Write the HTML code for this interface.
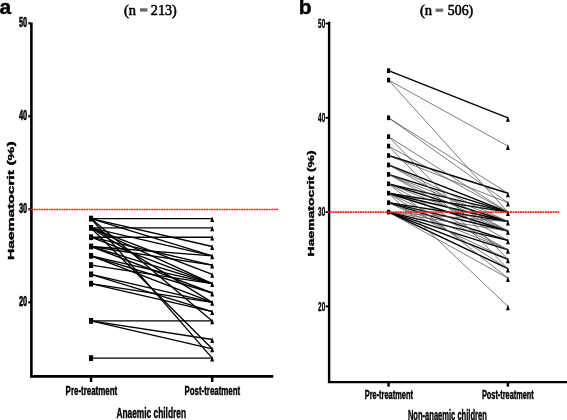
<!DOCTYPE html><html><head><meta charset="utf-8"><style>html,body{margin:0;padding:0;background:#fff;}svg{display:block;filter:blur(0.3px);}</style></head><body>
<svg width="567" height="420" viewBox="0 0 567 420">
<rect width="567" height="420" fill="#fff"/>
<text x="-0.5" y="14" font-size="21" font-family="Liberation Sans, sans-serif" font-weight="bold" stroke="#000" stroke-width="0.4">a</text>
<text x="123.9" y="14.7" font-size="14" font-family="Liberation Serif, serif" stroke="#000" stroke-width="0.55" textLength="12" lengthAdjust="spacingAndGlyphs">(n</text>
<rect x="140" y="8.3" width="7.4" height="3.3" fill="#6a6a6a"/>
<text x="150.8" y="14.7" font-size="14" font-family="Liberation Serif, serif" stroke="#000" stroke-width="0.55" textLength="26" lengthAdjust="spacingAndGlyphs">213)</text>
<text x="298.8" y="13.8" font-size="21" font-family="Liberation Sans, sans-serif" font-weight="bold" stroke="#000" stroke-width="0.4">b</text>
<text x="420" y="14.7" font-size="14" font-family="Liberation Serif, serif" stroke="#000" stroke-width="0.55" textLength="12.2" lengthAdjust="spacingAndGlyphs">(n</text>
<rect x="435.6" y="8.6" width="7.6" height="3.2" fill="#6a6a6a"/>
<text x="447.8" y="14.7" font-size="14" font-family="Liberation Serif, serif" stroke="#000" stroke-width="0.55" textLength="25.4" lengthAdjust="spacingAndGlyphs">506)</text>
<g stroke="#000" fill="none">
<path d="M31.4 23.7V376.4H272" stroke-width="2.6" stroke-linecap="square"/>
<path d="M28.3 23.30H31" stroke-width="2.2"/>
<path d="M28.3 116.30H31" stroke-width="2.2"/>
<path d="M28.3 209.30H31" stroke-width="2.2"/>
<path d="M28.3 302.30H31" stroke-width="2.2"/>
<path d="M91.05 377H91.05V382" stroke-width="2.5"/>
<path d="M212.20 377H212.20V382" stroke-width="2.5"/>
<path d="M329.1 22.9V382.1H567" stroke-width="2.4" stroke-linecap="square"/>
<path d="M325.6 23.50H329" stroke-width="1.8"/>
<path d="M325.6 117.80H329" stroke-width="1.8"/>
<path d="M325.6 212.10H329" stroke-width="1.8"/>
<path d="M325.6 306.40H329" stroke-width="1.8"/>
<path d="M388.55 383H388.55V386.6" stroke-width="2.5"/>
<path d="M507.90 383H507.90V386.6" stroke-width="2.5"/>
</g>
<text x="19" y="27.40" font-size="14" font-family="Liberation Sans, sans-serif" font-weight="bold" stroke="#000" stroke-width="0.6" textLength="8.2" lengthAdjust="spacingAndGlyphs">50</text>
<text x="318.1" y="27.70" font-size="12.5" font-family="Liberation Sans, sans-serif" font-weight="bold" stroke="#000" stroke-width="0.4" textLength="7.1" lengthAdjust="spacingAndGlyphs">50</text>
<text x="19" y="120.40" font-size="14" font-family="Liberation Sans, sans-serif" font-weight="bold" stroke="#000" stroke-width="0.6" textLength="8.2" lengthAdjust="spacingAndGlyphs">40</text>
<text x="318.1" y="122.00" font-size="12.5" font-family="Liberation Sans, sans-serif" font-weight="bold" stroke="#000" stroke-width="0.4" textLength="7.1" lengthAdjust="spacingAndGlyphs">40</text>
<text x="19" y="213.40" font-size="14" font-family="Liberation Sans, sans-serif" font-weight="bold" stroke="#000" stroke-width="0.6" textLength="8.2" lengthAdjust="spacingAndGlyphs">30</text>
<text x="318.1" y="216.30" font-size="12.5" font-family="Liberation Sans, sans-serif" font-weight="bold" stroke="#000" stroke-width="0.4" textLength="7.1" lengthAdjust="spacingAndGlyphs">30</text>
<text x="19" y="306.40" font-size="14" font-family="Liberation Sans, sans-serif" font-weight="bold" stroke="#000" stroke-width="0.6" textLength="8.2" lengthAdjust="spacingAndGlyphs">20</text>
<text x="318.1" y="310.60" font-size="12.5" font-family="Liberation Sans, sans-serif" font-weight="bold" stroke="#000" stroke-width="0.4" textLength="7.1" lengthAdjust="spacingAndGlyphs">20</text>
<text transform="translate(13.9 200.65) rotate(-90)" text-anchor="middle" font-size="9.6" font-family="Liberation Sans, sans-serif" font-weight="bold" stroke="#000" stroke-width="0.4" textLength="118.5" lengthAdjust="spacingAndGlyphs">Haematocrit (%)</text>
<text transform="translate(313.6 203.4) rotate(-90)" text-anchor="middle" font-size="9.2" font-family="Liberation Sans, sans-serif" font-weight="bold" stroke="#000" stroke-width="0.4" textLength="106" lengthAdjust="spacingAndGlyphs">Haematocrit (%)</text>
<text x="65.6" y="395.3" font-size="12.3" font-family="Liberation Sans, sans-serif" font-weight="bold" stroke="#000" stroke-width="0.4" textLength="51.6" lengthAdjust="spacingAndGlyphs">Pre-treatment</text>
<text x="184.5" y="395.3" font-size="12.3" font-family="Liberation Sans, sans-serif" font-weight="bold" stroke="#000" stroke-width="0.4" textLength="55.6" lengthAdjust="spacingAndGlyphs">Post-treatment</text>
<text x="116.4" y="417.8" font-size="14" font-family="Liberation Sans, sans-serif" font-weight="bold" stroke="#000" stroke-width="0.4" textLength="69.6" lengthAdjust="spacingAndGlyphs">Anaemic children</text>
<text x="364.7" y="398.6" font-size="12" font-family="Liberation Sans, sans-serif" font-weight="bold" stroke="#000" stroke-width="0.4" textLength="48.2" lengthAdjust="spacingAndGlyphs">Pre-treatment</text>
<text x="481.9" y="398.6" font-size="12" font-family="Liberation Sans, sans-serif" font-weight="bold" stroke="#000" stroke-width="0.4" textLength="51.9" lengthAdjust="spacingAndGlyphs">Post-treatment</text>
<text x="407.9" y="419.6" font-size="14.3" font-family="Liberation Sans, sans-serif" font-weight="bold" stroke="#000" stroke-width="0.4" textLength="78.9" lengthAdjust="spacingAndGlyphs">Non-anaemic children</text>
<g stroke="#000" stroke-width="1.35" fill="none">
<path d="M91.05 218.60L212.20 218.60"/>
<path d="M91.05 227.90L212.20 227.90"/>
<path d="M91.05 237.20L212.20 237.20"/>
<path d="M91.05 218.60L212.20 246.50"/>
<path d="M91.05 218.60L212.20 255.80"/>
<path d="M91.05 227.90L212.20 255.80"/>
<path d="M91.05 246.50L212.20 255.80"/>
<path d="M91.05 237.20L212.20 265.10"/>
<path d="M91.05 246.50L212.20 265.10"/>
<path d="M91.05 227.90L212.20 274.40"/>
<path d="M91.05 227.90L212.20 283.70"/>
<path d="M91.05 237.20L212.20 283.70"/>
<path d="M91.05 246.50L212.20 283.70"/>
<path d="M91.05 255.80L212.20 283.70"/>
<path d="M91.05 265.10L212.20 283.70"/>
<path d="M91.05 255.80L212.20 293.00"/>
<path d="M91.05 246.50L212.20 293.00"/>
<path d="M91.05 227.90L212.20 302.30"/>
<path d="M91.05 255.80L212.20 302.30"/>
<path d="M91.05 274.40L212.20 302.30"/>
<path d="M91.05 283.70L212.20 302.30"/>
<path d="M91.05 274.40L212.20 311.60"/>
<path d="M91.05 283.70L212.20 311.60"/>
<path d="M91.05 218.60L212.20 320.90"/>
<path d="M91.05 320.90L212.20 320.90"/>
<path d="M91.05 320.90L212.20 339.50"/>
<path d="M91.05 320.90L212.20 348.80"/>
<path d="M91.05 227.90L212.20 348.80"/>
<path d="M91.05 218.60L212.20 358.10"/>
<path d="M91.05 358.10L212.20 358.10"/>
</g>
<g fill="#000">
<rect x="89.00" y="215.70" width="4.1" height="5.8"/>
<rect x="89.00" y="225.00" width="4.1" height="5.8"/>
<rect x="89.00" y="234.30" width="4.1" height="5.8"/>
<rect x="89.00" y="243.60" width="4.1" height="5.8"/>
<rect x="89.00" y="252.90" width="4.1" height="5.8"/>
<rect x="89.00" y="262.20" width="4.1" height="5.8"/>
<rect x="89.00" y="271.50" width="4.1" height="5.8"/>
<rect x="89.00" y="280.80" width="4.1" height="5.8"/>
<rect x="89.00" y="318.00" width="4.1" height="5.8"/>
<rect x="89.00" y="355.20" width="4.1" height="5.8"/>
<path d="M210.25 222.00L212.20 216.40L214.15 222.00Z"/>
<path d="M210.25 231.30L212.20 225.70L214.15 231.30Z"/>
<path d="M210.25 240.60L212.20 235.00L214.15 240.60Z"/>
<path d="M210.25 249.90L212.20 244.30L214.15 249.90Z"/>
<path d="M210.25 259.20L212.20 253.60L214.15 259.20Z"/>
<path d="M210.25 268.50L212.20 262.90L214.15 268.50Z"/>
<path d="M210.25 277.80L212.20 272.20L214.15 277.80Z"/>
<path d="M210.25 287.10L212.20 281.50L214.15 287.10Z"/>
<path d="M210.25 296.40L212.20 290.80L214.15 296.40Z"/>
<path d="M210.25 305.70L212.20 300.10L214.15 305.70Z"/>
<path d="M210.25 315.00L212.20 309.40L214.15 315.00Z"/>
<path d="M210.25 324.30L212.20 318.70L214.15 324.30Z"/>
<path d="M210.25 342.90L212.20 337.30L214.15 342.90Z"/>
<path d="M210.25 352.20L212.20 346.60L214.15 352.20Z"/>
<path d="M210.25 361.50L212.20 355.90L214.15 361.50Z"/>
</g>
<g fill="none">
<path d="M388.55 70.65L507.90 117.80" stroke="#000" stroke-width="1.4"/>
<path d="M388.55 155.52L507.90 193.24" stroke="#000" stroke-width="1.4"/>
<path d="M388.55 164.95L507.90 212.10" stroke="#000" stroke-width="1.4"/>
<path d="M388.55 174.38L507.90 212.10" stroke="#000" stroke-width="1.4"/>
<path d="M388.55 183.81L507.90 212.10" stroke="#000" stroke-width="1.4"/>
<path d="M388.55 183.81L507.90 221.53" stroke="#000" stroke-width="1.4"/>
<path d="M388.55 193.24L507.90 221.53" stroke="#000" stroke-width="1.4"/>
<path d="M388.55 193.24L507.90 230.96" stroke="#000" stroke-width="1.4"/>
<path d="M388.55 202.67L507.90 230.96" stroke="#000" stroke-width="1.4"/>
<path d="M388.55 202.67L507.90 240.39" stroke="#000" stroke-width="1.4"/>
<path d="M388.55 212.10L507.90 240.39" stroke="#000" stroke-width="1.4"/>
<path d="M388.55 212.10L507.90 249.82" stroke="#000" stroke-width="1.4"/>
<path d="M388.55 212.10L507.90 259.25" stroke="#000" stroke-width="1.4"/>
<path d="M388.55 212.10L507.90 268.68" stroke="#000" stroke-width="1.4"/>
<path d="M388.55 193.24L507.90 212.10" stroke="#000" stroke-width="1.4"/>
<path d="M388.55 202.67L507.90 221.53" stroke="#000" stroke-width="1.4"/>
<path d="M388.55 80.08L507.90 146.09" stroke="#444" stroke-width="0.7"/>
<path d="M388.55 80.08L507.90 212.10" stroke="#444" stroke-width="0.7"/>
<path d="M388.55 117.80L507.90 193.24" stroke="#444" stroke-width="0.7"/>
<path d="M388.55 117.80L507.90 202.67" stroke="#444" stroke-width="0.7"/>
<path d="M388.55 136.66L507.90 212.10" stroke="#444" stroke-width="0.7"/>
<path d="M388.55 146.09L507.90 212.10" stroke="#444" stroke-width="0.7"/>
<path d="M388.55 155.52L507.90 202.67" stroke="#444" stroke-width="0.7"/>
<path d="M388.55 136.66L507.90 259.25" stroke="#444" stroke-width="0.7"/>
<path d="M388.55 146.09L507.90 268.68" stroke="#444" stroke-width="0.7"/>
<path d="M388.55 164.95L507.90 221.53" stroke="#444" stroke-width="0.7"/>
<path d="M388.55 174.38L507.90 221.53" stroke="#444" stroke-width="0.7"/>
<path d="M388.55 174.38L507.90 230.96" stroke="#444" stroke-width="0.7"/>
<path d="M388.55 183.81L507.90 230.96" stroke="#444" stroke-width="0.7"/>
<path d="M388.55 183.81L507.90 249.82" stroke="#444" stroke-width="0.7"/>
<path d="M388.55 193.24L507.90 249.82" stroke="#444" stroke-width="0.7"/>
<path d="M388.55 193.24L507.90 268.68" stroke="#444" stroke-width="0.7"/>
<path d="M388.55 193.24L507.90 306.40" stroke="#444" stroke-width="0.7"/>
<path d="M388.55 202.67L507.90 249.82" stroke="#444" stroke-width="0.7"/>
<path d="M388.55 202.67L507.90 259.25" stroke="#444" stroke-width="0.7"/>
<path d="M388.55 212.10L507.90 221.53" stroke="#444" stroke-width="0.7"/>
<path d="M388.55 212.10L507.90 230.96" stroke="#444" stroke-width="0.7"/>
<path d="M388.55 212.10L507.90 278.11" stroke="#444" stroke-width="0.7"/>
<path d="M388.55 183.81L507.90 278.11" stroke="#444" stroke-width="0.7"/>
<path d="M388.55 174.38L507.90 240.39" stroke="#444" stroke-width="0.7"/>
<path d="M388.55 164.95L507.90 230.96" stroke="#444" stroke-width="0.7"/>
</g>
<g fill="#000">
<rect x="387.00" y="68.30" width="3.1" height="4.7"/>
<rect x="387.00" y="77.73" width="3.1" height="4.7"/>
<rect x="387.00" y="115.45" width="3.1" height="4.7"/>
<rect x="387.00" y="134.31" width="3.1" height="4.7"/>
<rect x="387.00" y="143.74" width="3.1" height="4.7"/>
<rect x="387.00" y="153.17" width="3.1" height="4.7"/>
<rect x="387.00" y="162.60" width="3.1" height="4.7"/>
<rect x="387.00" y="172.03" width="3.1" height="4.7"/>
<rect x="387.00" y="181.46" width="3.1" height="4.7"/>
<rect x="387.00" y="190.89" width="3.1" height="4.7"/>
<rect x="387.00" y="200.32" width="3.1" height="4.7"/>
<rect x="387.00" y="209.75" width="3.1" height="4.7"/>
<path d="M506.00 121.70L507.90 116.00L509.80 121.70Z"/>
<path d="M506.00 149.99L507.90 144.29L509.80 149.99Z"/>
<path d="M506.00 197.14L507.90 191.44L509.80 197.14Z"/>
<path d="M506.00 206.57L507.90 200.87L509.80 206.57Z"/>
<path d="M506.00 216.00L507.90 210.30L509.80 216.00Z"/>
<path d="M506.00 225.43L507.90 219.73L509.80 225.43Z"/>
<path d="M506.00 234.86L507.90 229.16L509.80 234.86Z"/>
<path d="M506.00 244.29L507.90 238.59L509.80 244.29Z"/>
<path d="M506.00 253.72L507.90 248.02L509.80 253.72Z"/>
<path d="M506.00 263.15L507.90 257.45L509.80 263.15Z"/>
<path d="M506.00 272.58L507.90 266.88L509.80 272.58Z"/>
<path d="M506.00 282.01L507.90 276.31L509.80 282.01Z"/>
<path d="M506.00 310.30L507.90 304.60L509.80 310.30Z"/>
</g>
<path d="M28.7 209.5H278.8" stroke="#ff1a1a" stroke-width="1.6" stroke-dasharray="1.9 0.6" fill="none"/>
<path d="M327.5 212.1H559" stroke="#ff1a1a" stroke-width="1.6" stroke-dasharray="1.9 0.6" fill="none"/>
</svg></body></html>
